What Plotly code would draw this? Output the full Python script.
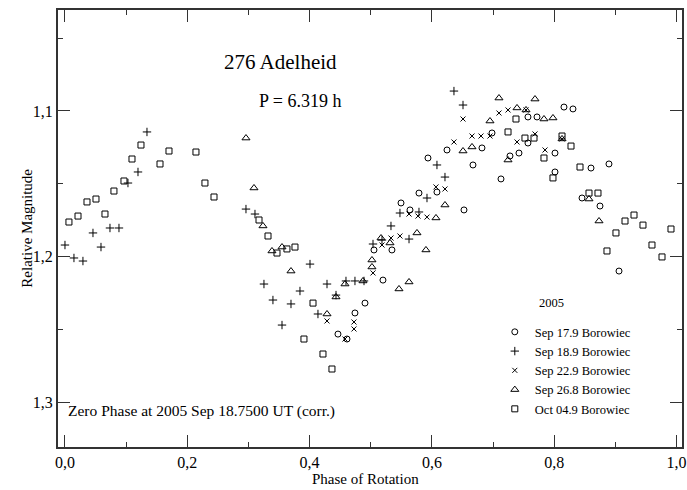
import plotly.graph_objects as go

# Sep 17.9 Borowiec (circles)
sep17_phase = [0.4464, 0.4612, 0.4742, 0.4906, 0.5200, 0.5053, 0.5347, 0.5495, 0.5642, 0.5789,
               0.5936, 0.6083, 0.6247, 0.6525, 0.6672, 0.6819, 0.6983, 0.7130, 0.7277, 0.7424,
               0.7571, 0.7571, 0.7719, 0.8013, 0.8013, 0.8160, 0.8307, 0.8455, 0.8602, 0.8749,
               0.8896, 0.9060]
sep17_mag = [1.2533, 1.2567, 1.2388, 1.2320, 1.2162, 1.1955, 1.1955, 1.1632, 1.1680, 1.1564,
             1.1323, 1.1557, 1.1268, 1.1680, 1.1371, 1.1254, 1.1151, 1.1467, 1.1309, 1.1289,
             1.1220, 1.1041, 1.1041, 1.1289, 1.1419, 1.0973, 1.0986, 1.1598, 1.1392, 1.1653,
             1.1364, 1.2100]

# Sep 18.9 Borowiec (plus)
sep18_phase = [0.0000, 0.0147, 0.0294, 0.0458, 0.0589, 0.0736, 0.0883, 0.1030, 0.1194, 0.1341,
               0.2960, 0.3107, 0.3254, 0.3401, 0.3549, 0.3696, 0.3843, 0.4007, 0.4137, 0.4285,
               0.4432, 0.4595, 0.4742, 0.4890, 0.5037, 0.5184, 0.5331, 0.5478, 0.5626, 0.5789,
               0.5920, 0.6083, 0.6214, 0.6361, 0.6509]
sep18_mag = [1.1921, 1.2010, 1.2031, 1.1838, 1.1935, 1.1804, 1.1804, 1.1495, 1.1419, 1.1144,
             1.1674, 1.1708, 1.2189, 1.2299, 1.2471, 1.2326, 1.2237, 1.2052, 1.2395, 1.2189,
             1.2265, 1.2168, 1.2168, 1.2168, 1.1914, 1.1887, 1.1790, 1.1701, 1.1880, 1.1694,
             1.1598, 1.1371, 1.1454, 1.0863, 1.0959]

# Sep 22.9 Borowiec (x)
sep22_phase = [0.4285, 0.4579, 0.4726, 0.4726, 0.5037, 0.5184, 0.5331, 0.5478, 0.5626, 0.5773,
               0.5920, 0.6067, 0.6214, 0.6361, 0.6509, 0.6656, 0.6803, 0.6950, 0.7097, 0.7245,
               0.7392, 0.7539, 0.7686, 0.7850, 0.8128]
sep22_mag = [1.2443, 1.2567, 1.2450, 1.2498, 1.2113, 1.1921, 1.1873, 1.1859, 1.1708, 1.1722,
             1.1729, 1.1522, 1.1536, 1.1213, 1.1055, 1.1172, 1.1172, 1.1172, 1.1014, 1.0993,
             1.1213, 1.0993, 1.1158, 1.1268, 1.1192]

# Sep 26.8 Borowiec (triangles)
sep26_phase = [0.2960, 0.3091, 0.3238, 0.3385, 0.3549, 0.3696, 0.4285, 0.4432, 0.4579, 0.4873,
               0.5020, 0.5020, 0.5168, 0.5315, 0.5462, 0.5626, 0.5756, 0.5903, 0.6067, 0.6214,
               0.6509, 0.6656, 0.6950, 0.7097, 0.7245, 0.7392, 0.7539, 0.7686, 0.7833, 0.7980,
               0.8128, 0.8569, 0.8733]
sep26_mag = [1.1186, 1.1529, 1.1790, 1.1962, 1.1935, 1.2100, 1.2395, 1.2278, 1.2189, 1.2168,
             1.2024, 1.2072, 1.1873, 1.1907, 1.2223, 1.2175, 1.1838, 1.1955, 1.1735, 1.1646,
             1.1275, 1.1247, 1.1069, 1.0911, 1.1337, 1.0979, 1.0993, 1.0918, 1.1055, 1.1048,
             1.1192, 1.1605, 1.1756]

# Oct 04.9 Borowiec (squares)
oct04_phase = [0.0065, 0.0213, 0.0360, 0.0507, 0.0654, 0.0801, 0.0965, 0.1096, 0.1243, 0.1554,
               0.1701, 0.2142, 0.2289, 0.2437, 0.3173, 0.3320, 0.3467, 0.3630, 0.3761, 0.4056,
               0.3908, 0.4219, 0.4366, 0.7245, 0.7375, 0.7522, 0.7670, 0.7833, 0.7980, 0.8128,
               0.8275, 0.8422, 0.8569, 0.8716, 0.8863, 0.9010, 0.9158, 0.9305, 0.9452, 0.9599,
               0.9763, 0.9910]
oct04_mag = [1.1763, 1.1722, 1.1625, 1.1605, 1.1708, 1.1550, 1.1481, 1.1330, 1.1234, 1.1364,
             1.1275, 1.1282, 1.1495, 1.1591, 1.1749, 1.1859, 1.1976, 1.1948, 1.1935, 1.2320,
             1.2567, 1.2670, 1.2773, 1.1144, 1.1055, 1.1186, 1.1186, 1.1323, 1.1460, 1.1172,
             1.1241, 1.1385, 1.1564, 1.1564, 1.1962, 1.1838, 1.1756, 1.1715, 1.1784, 1.1921,
             1.2003, 1.1811]

series_names = ["Sep 17.9 Borowiec", "Sep 18.9 Borowiec", "Sep 22.9 Borowiec",
                "Sep 26.8 Borowiec", "Oct 04.9 Borowiec"]

x_tickvals = [0.0, 0.2, 0.4, 0.6, 0.8, 1.0]
x_ticktext = ["0,0", "0,2", "0,4", "0,6", "0,8", "1,0"]
y_tickvals = [1.1, 1.2, 1.3]
y_ticktext = ["1,1", "1,2", "1,3"]

FONT = "Liberation Serif, Times New Roman, serif"

symbols = ["circle-open", "cross-thin-open", "x-thin-open", "triangle-up-open", "square-open"]
sizes = [6, 6, 5, 7, 6]
data = [(sep17_phase, sep17_mag), (sep18_phase, sep18_mag), (sep22_phase, sep22_mag),
        (sep26_phase, sep26_mag), (oct04_phase, oct04_mag)]

fig = go.Figure()
for (xs, ys), name, sym, sz in zip(data, series_names, symbols, sizes):
    fig.add_trace(go.Scatter(
        x=xs, y=ys, mode="markers", name=name,
        marker=dict(symbol=sym, size=sz, color="black",
                    line=dict(color="black", width=1)),
    ))

axis_common = dict(
    showline=True, linecolor="#333", linewidth=2, mirror="allticks",
    ticks="inside", ticklen=12, tickcolor="#333", tickwidth=1,
    showgrid=False, zeroline=False, automargin=False,
    tickfont=dict(family=FONT, size=16, color="black"),
)

fig.update_xaxes(
    range=[-0.0114, 1.009], tickvals=x_tickvals, ticktext=x_ticktext,
    minor=dict(dtick=0.1, tick0=0, ticks="inside", ticklen=5, tickcolor="#333", showgrid=False),
    **axis_common,
)
fig.update_yaxes(
    range=[1.3309, 1.0306], tickvals=y_tickvals, ticktext=y_ticktext,
    minor=dict(dtick=0.05, tick0=1.0, ticks="inside", ticklen=5, tickcolor="#333", showgrid=False),
    **axis_common,
)

fig.add_annotation(text="Phase of Rotation", xref="paper", yref="paper", x=0.492, y=-0.074,
                   yanchor="middle", showarrow=False, font=dict(family=FONT, size=15, color="black"))
fig.add_annotation(text="Relative Magnitude", xref="paper", yref="paper", x=-0.067, y=0.50,
                   textangle=-90, showarrow=False, font=dict(family=FONT, size=15, color="black"))
fig.add_annotation(text="276 Adelheid", xref="paper", yref="paper", x=0.356, y=0.913,
                   showarrow=False, font=dict(family=FONT, size=21, color="black"))
fig.add_annotation(text="P = 6.319 h", xref="paper", yref="paper", x=0.388, y=0.82,
                   showarrow=False, font=dict(family=FONT, size=18, color="black"))
fig.add_annotation(text="Zero Phase at 2005 Sep 18.7500 UT (corr.)", xref="paper", yref="paper",
                   x=0.0128, y=0.057, xanchor="left", showarrow=False,
                   font=dict(family=FONT, size=15.5, color="black"))
fig.add_annotation(text="2005", xref="paper", yref="paper", x=0.7676, y=0.309, xanchor="left",
                   showarrow=False, font=dict(family=FONT, size=12.5, color="black"))

fig.update_layout(
    width=687, height=490,
    margin=dict(l=58, r=5, t=10, b=43),
    paper_bgcolor="white", plot_bgcolor="white",
    showlegend=True,
    legend=dict(x=0.70, y=0.297, xanchor="left", yanchor="top",
                font=dict(family=FONT, size=12.5, color="black"),
                bgcolor="rgba(0,0,0,0)", tracegroupgap=0),
    font=dict(family=FONT, color="black"),
)

fig.write_html("out.html", config={"displayModeBar": False},
               post_script="document.body.style.margin='0';")
